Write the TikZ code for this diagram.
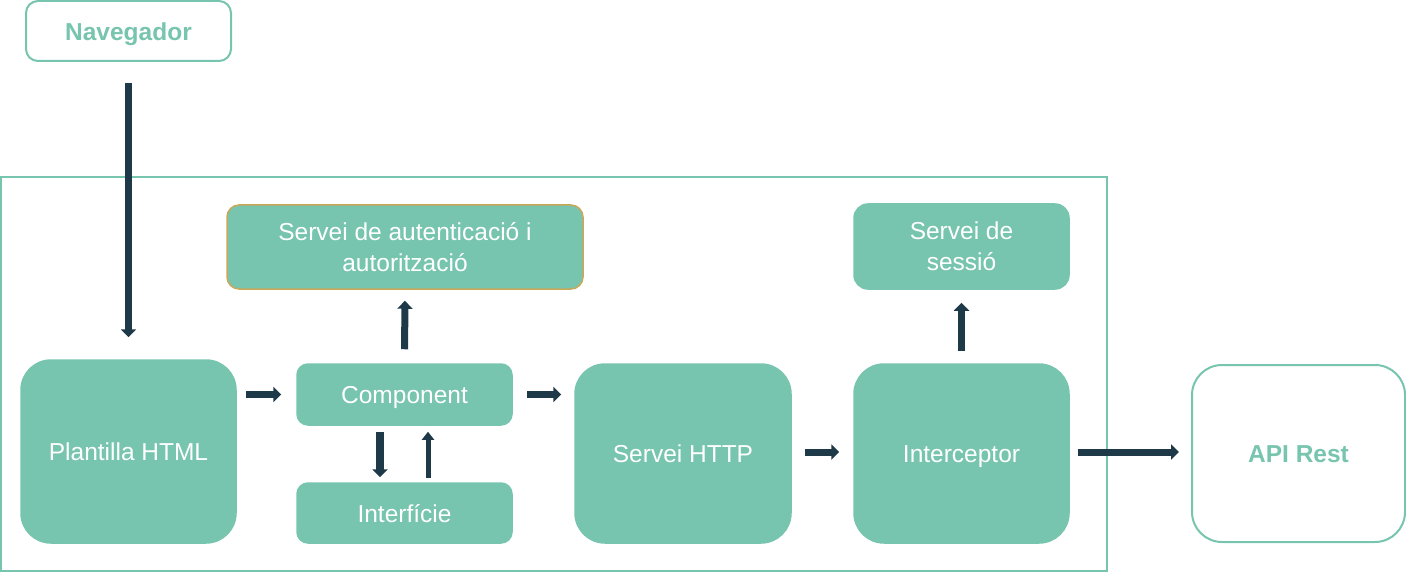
\documentclass[tikz,border=0pt]{standalone}
\usepackage{fontspec}
\setmainfont{Liberation Sans}
\usetikzlibrary{arrows.meta}
\definecolor{teal1}{HTML}{77C4AF}
\definecolor{gold1}{HTML}{C9A85A}
\definecolor{dark1}{HTML}{1E3A48}
\tikzset{
  box/.style={fill=teal1, draw=teal1, line width=1.5pt, text=white, align=center, inner sep=0pt,
    font=\fontsize{24.5}{31}\selectfont},
  outbox/.style={fill=white, draw=teal1, line width=2pt, text=teal1, align=center, inner sep=0pt,
    font=\fontsize{24.5}{31}\selectfont\bfseries},
  oneline/.style={text height=23.5pt, text depth=5pt},
  conn/.style={draw=dark1, line width=7pt, -{Triangle[width=15pt,length=8pt]}},
  thinconn/.style={draw=dark1, line width=5pt, -{Triangle[width=12pt,length=8pt]}}
}
\begin{document}
\begin{tikzpicture}[x=1pt,y=-1pt]
\useasboundingbox (0,0) rectangle (1406,572);
\draw[teal1, line width=2pt] (1,177) rectangle (1107,571);

\node[outbox, oneline, rounded corners=12pt, minimum width=205pt, minimum height=60pt] (nav) at (128.5,31) {Navegador};
\node[box, draw=gold1, rounded corners=12pt, minimum width=356pt, minimum height=84pt] (auth) at (405,247) {Servei de autenticació i\\autorització};
\node[box, rounded corners=14pt, minimum width=215pt, minimum height=85pt] (ses) at (961.5,246.5) {Servei de\\sessió};
\node[box, oneline, rounded corners=30pt, minimum width=215pt, minimum height=183pt] (pl) at (128.5,451.5) {Plantilla HTML};
\node[box, oneline, rounded corners=11pt, minimum width=215pt, minimum height=61pt] (comp) at (404.5,394.5) {Component};
\node[box, oneline, rounded corners=11pt, minimum width=215pt, minimum height=60pt] (intf) at (404.5,513) {Interfície};
\node[box, oneline, rounded corners=30pt, minimum width=216pt, minimum height=179pt] (http) at (683,453.5) {Servei HTTP};
\node[box, oneline, rounded corners=30pt, minimum width=215pt, minimum height=179pt] (int) at (961.5,453.5) {Interceptor};
\node[outbox, oneline, rounded corners=30pt, minimum width=213pt, minimum height=177pt] (api) at (1298.5,453.5) {API Rest};

\draw[conn, shorten <=21pt, shorten >=22pt] (nav.south) -- (pl.north);
\draw[conn, shorten <=9pt, shorten >=15pt] (pl.east |- comp.west) -- (comp.west);
\draw[conn, shorten <=14pt, shorten >=11pt] (comp.north) -- (auth.south);
\draw[conn, shorten <=14pt, shorten >=13pt] (comp.east) -- (http.west |- comp.east);
\draw[conn, shorten <=13pt, shorten >=14pt] ([yshift=1.5pt]http.east) -- ([yshift=1.5pt]int.west);
\draw[conn, shorten <=12pt, shorten >=13pt] (int.north) -- (ses.south);
\draw[conn, shorten <=8pt, shorten >=12pt] ([yshift=1.5pt]int.east) -- ([yshift=1.5pt]api.west);
\draw[conn, line width=8pt, shorten <=6pt, shorten >=5pt] ([xshift=-24.5pt]comp.south) -- ([xshift=-24.5pt]intf.north);
\draw[thinconn, shorten <=4pt, shorten >=6pt] ([xshift=23.5pt]intf.north) -- ([xshift=23.5pt]comp.south);
\end{tikzpicture}
\end{document}
